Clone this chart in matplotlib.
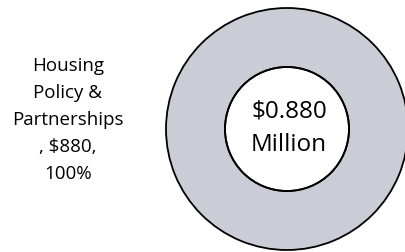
import matplotlib.pyplot as plt

# data
labels = ["Housing Policy & Partnerships"]
values = [880]
pct = [100]
total_label = "$0.880\nMillion"

fig = plt.figure(figsize=(4.06, 2.53), dpi=100)
ax = fig.add_axes([0, 0, 1, 1])
ax.set_xlim(0, 406)
ax.set_ylim(253, 0)
ax.set_aspect("equal")
ax.axis("off")

ax.pie(values, center=(287, 130), radius=121, startangle=90, counterclock=False,
       colors=["#CBCDD6"],
       wedgeprops=dict(width=59, edgecolor="black", linewidth=1.3))
# inner edge outline
circ = plt.Circle((287, 130), 62, fill=False, edgecolor="black", linewidth=1.3)
ax.add_patch(circ)
ax.set_xlim(0, 406)
ax.set_ylim(253, 0)

ax.text(289, 128, total_label, ha="center", va="center", fontsize=17.5,
        family="Open Sans", linespacing=1.55)

lab = "Housing\nPolicy &\nPartnerships\n, $%d,\n%d%%" % (values[0], pct[0])
ax.text(68, 120, lab, ha="center", va="center", fontsize=13.5,
        family="Open Sans", linespacing=1.65)

fig.savefig("out.png", dpi=100)
